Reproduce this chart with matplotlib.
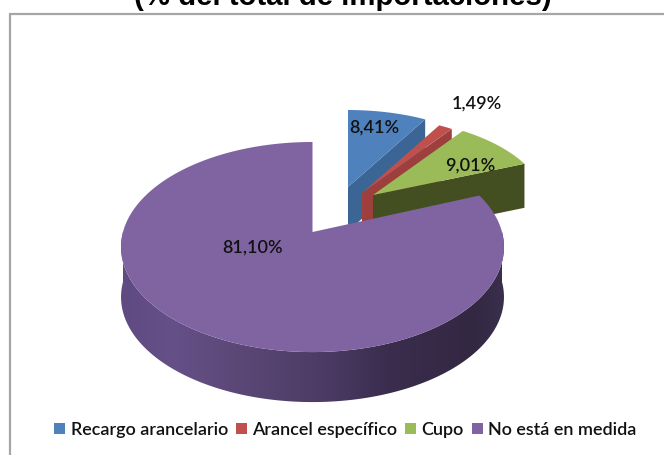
import numpy as np
import matplotlib
matplotlib.use("Agg")
import matplotlib.pyplot as plt
from matplotlib.patches import Polygon, Patch, Rectangle
from matplotlib.colors import LinearSegmentedColormap

categories = ["Recargo arancelario", "Arancel específico", "Cupo", "No está en medida"]
values = [8.41, 1.49, 9.01, 81.10]
value_labels = ["8,41%", "1,49%", "9,01%", "81,10%"]
colors = ["#4f81bd", "#c0504d", "#9bbb59", "#8064a2"]
side_colors = ["#3a6594", "#9c3f3d", "#434f20", "#5a4579"]
wall_stops = [(0.0, "#5f4a82"), (0.14, "#655087"), (0.3, "#5c4877"), (0.55, "#4a3a63"),
              (0.7, "#3a2d4e"), (0.92, "#332842"), (1.0, "#3a2f4c")]
title = "(% del total de importaciones)"

# layout, in reference pixels: apex x, apex y, rx, ry, depth
geometry = [(348, 187, 172, 88, 44), (362, 193, 172, 88, 44),
            (373, 195, 172, 88, 44), (312.5, 232, 189.5, 102.9, 50)]
label_pos = [(374, 128), (477, 104), (470, 166), (253, 248)]
K = 0.143

fig = plt.figure(figsize=(6.64, 4.55), dpi=100)
ax = fig.add_axes([0, 0, 1, 1])
ax.set_xlim(0, 664)
ax.set_ylim(455, 0)
ax.axis("off")


def project(theta, g):
    ax0, ay0, rx, ry, _ = g
    w = 1 + K * np.sin(theta)
    return ax0 + rx * np.cos(theta) / w, ay0 - ry * np.sin(theta) / w


fractions = np.array(values) / sum(values)
ends = 90 - 360 * np.cumsum(fractions)
starts = np.r_[90, ends[:-1]]

ax.add_patch(Rectangle((9.5, 14), 700, 500, fc="white", ec="#a6a6a6", lw=1.6))

for i in range(len(values)):
    g = geometry[i]
    depth = g[4]
    th = np.radians(np.linspace(ends[i], starts[i], 300))
    x, y = project(th, g)
    apex = (g[0], g[1])
    if i < 3:
        # radial wall on the lower edge of the slice
        ax.add_patch(Polygon([apex, (x[0], y[0]), (x[0], y[0] + depth), (apex[0], apex[1] + depth)],
                             fc=side_colors[i], ec="none", zorder=2 + i))
    else:
        # outer wall with a horizontal shading gradient, clipped to the rim band
        fine = np.radians(np.linspace(180, 360, 241))
        fx, fy = project(fine, g)
        wall = Polygon(np.c_[np.r_[fx, fx[::-1]], np.r_[fy, fy[::-1] + depth]],
                       fc="none", ec="none", zorder=2 + i)
        ax.add_patch(wall)
        cmap = LinearSegmentedColormap.from_list("wall", wall_stops)
        im = ax.imshow(np.linspace(0, 1, 256)[None, :], cmap=cmap, aspect="auto",
                       extent=(fx.min(), fx.max(), 455, 0), zorder=2 + i)
        im.set_clip_path(wall)
    ax.add_patch(Polygon(np.c_[np.r_[x, apex[0]], np.r_[y, apex[1]]],
                         fc=colors[i], ec="none", zorder=2.5 + i))

ax.set_xlim(0, 664)
ax.set_ylim(455, 0)

for (lx, ly), s in zip(label_pos, value_labels):
    ax.text(lx, ly, s, ha="center", va="center", fontsize=13, family="Lato",
            fontweight="semibold", color="#111111", zorder=10)

ax.text(343, 5, title, ha="center", va="baseline", fontsize=21.2, fontweight="bold",
        family="Liberation Sans", color="black", zorder=10)

handles = [Patch(fc=c, ec="none") for c in colors]
ax.legend(handles, categories, ncol=4, loc="center", bbox_to_anchor=(345.5 / 664, 1 - 430 / 455),
          frameon=False, prop={"family": "Lato", "size": 13, "weight": "semibold"},
          handlelength=0.6, handleheight=0.6, handletextpad=0.3, columnspacing=0.45,
          labelcolor="#111111", borderpad=0)

fig.savefig("out.png", dpi=100)
